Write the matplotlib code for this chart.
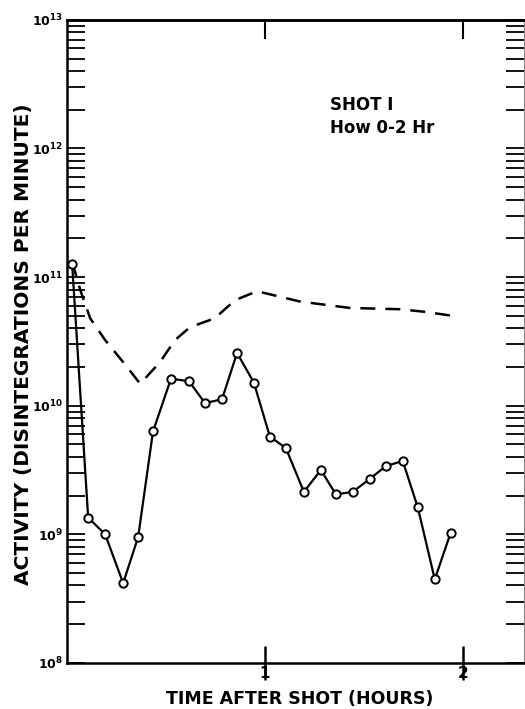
import math
import matplotlib
matplotlib.use('Agg')
import matplotlib.pyplot as plt
from matplotlib.ticker import LogLocator, NullFormatter, FixedLocator

# solid curve with circles (hours, log10 of activity)
t_pts = [0.025, 0.106, 0.192, 0.283, 0.359, 0.434, 0.525, 0.616, 0.697, 0.783,
         0.859, 0.944, 1.025, 1.106, 1.197, 1.283, 1.359, 1.444, 1.530, 1.611,
         1.697, 1.773, 1.859, 1.939]
log_pts = [11.10, 9.13, 9.00, 8.62, 8.98, 9.80, 10.21, 10.19, 10.02, 10.05,
           10.41, 10.18, 9.76, 9.67, 9.33, 9.50, 9.31, 9.33, 9.43, 9.53,
           9.57, 9.21, 8.65, 9.01]

# dashed curve
t_dash = [0.025, 0.066, 0.116, 0.192, 0.293, 0.369, 0.470, 0.545, 0.621, 0.747,
          0.848, 0.960, 1.177, 1.429, 1.682, 1.808, 1.944]
log_dash = [11.12, 10.90, 10.68, 10.51, 10.32, 10.17, 10.34, 10.51, 10.61, 10.68,
            10.82, 10.89, 10.81, 10.76, 10.75, 10.73, 10.70]

decades = [8, 9, 10, 11, 12, 13]
x_ticks = [1, 2]

plt.rcParams['font.family'] = ['Liberation Sans Narrow', 'DejaVu Sans Condensed', 'DejaVu Sans']
plt.rcParams['font.weight'] = 'bold'

fig = plt.figure(figsize=(5.25, 7.09), dpi=100)
ax = fig.add_axes([0.128, 0.065, 0.870, 0.907])

ax.plot(t_pts, [10 ** v for v in log_pts], color='black', lw=1.6, marker='o',
        ms=6, mfc='white', mec='black', mew=1.4, zorder=3)
ax.plot(t_dash, [10 ** v for v in log_dash], color='black', lw=1.8,
        dashes=(6, 4), zorder=2)

ax.set_yscale('log')
ax.set_ylim(1e8, 1e13)
ax.set_xlim(0, 2.31)

ax.yaxis.set_major_locator(FixedLocator([10.0 ** d for d in decades]))
ax.yaxis.set_major_formatter(plt.FuncFormatter(lambda v, p: '10$^{%d}$' % round(math.log10(v))))
ax.yaxis.set_minor_locator(LogLocator(base=10, subs=range(2, 10)))
ax.yaxis.set_minor_formatter(NullFormatter())
ax.tick_params(axis='y', which='both', direction='in', length=13, width=1.3,
               left=True, right=True, labelsize=9, pad=3)

ax.set_xticks(x_ticks)
ax.set_xticklabels([str(v) for v in x_ticks], fontsize=11, fontweight='bold')
ax.tick_params(axis='x', which='major', direction='inout', length=25, width=1.8, pad=-10)
ax.tick_params(axis='x', which='minor', bottom=False)

top = ax.secondary_xaxis('top')
top.set_xticks(x_ticks)
top.set_xticklabels([])
top.tick_params(direction='in', length=14, width=1.5)
top.spines['top'].set_linewidth(1.8)

for side in ['left', 'bottom']:
    ax.spines[side].set_linewidth(1.8)
ax.spines['top'].set_linewidth(1.8)
ax.spines['right'].set_linewidth(0.8)
ax.spines['right'].set_color('#888888')

ax.set_ylabel('ACTIVITY (DISINTEGRATIONS PER MINUTE)', fontsize=14.5,
              fontweight='bold')
ax.yaxis.set_label_coords(-0.075, 0.495)
ax.set_xlabel('TIME AFTER SHOT (HOURS)', fontsize=12.5, fontweight='bold')
ax.xaxis.set_label_coords(0.51, -0.042)

ax.text(1.33, 10 ** 12.3, 'SHOT I', fontsize=12, fontweight='bold', ha='left')
ax.text(1.33, 10 ** 12.12, 'How 0-2 Hr', fontsize=12, fontweight='bold', ha='left')

fig.savefig('out.png', dpi=100)
